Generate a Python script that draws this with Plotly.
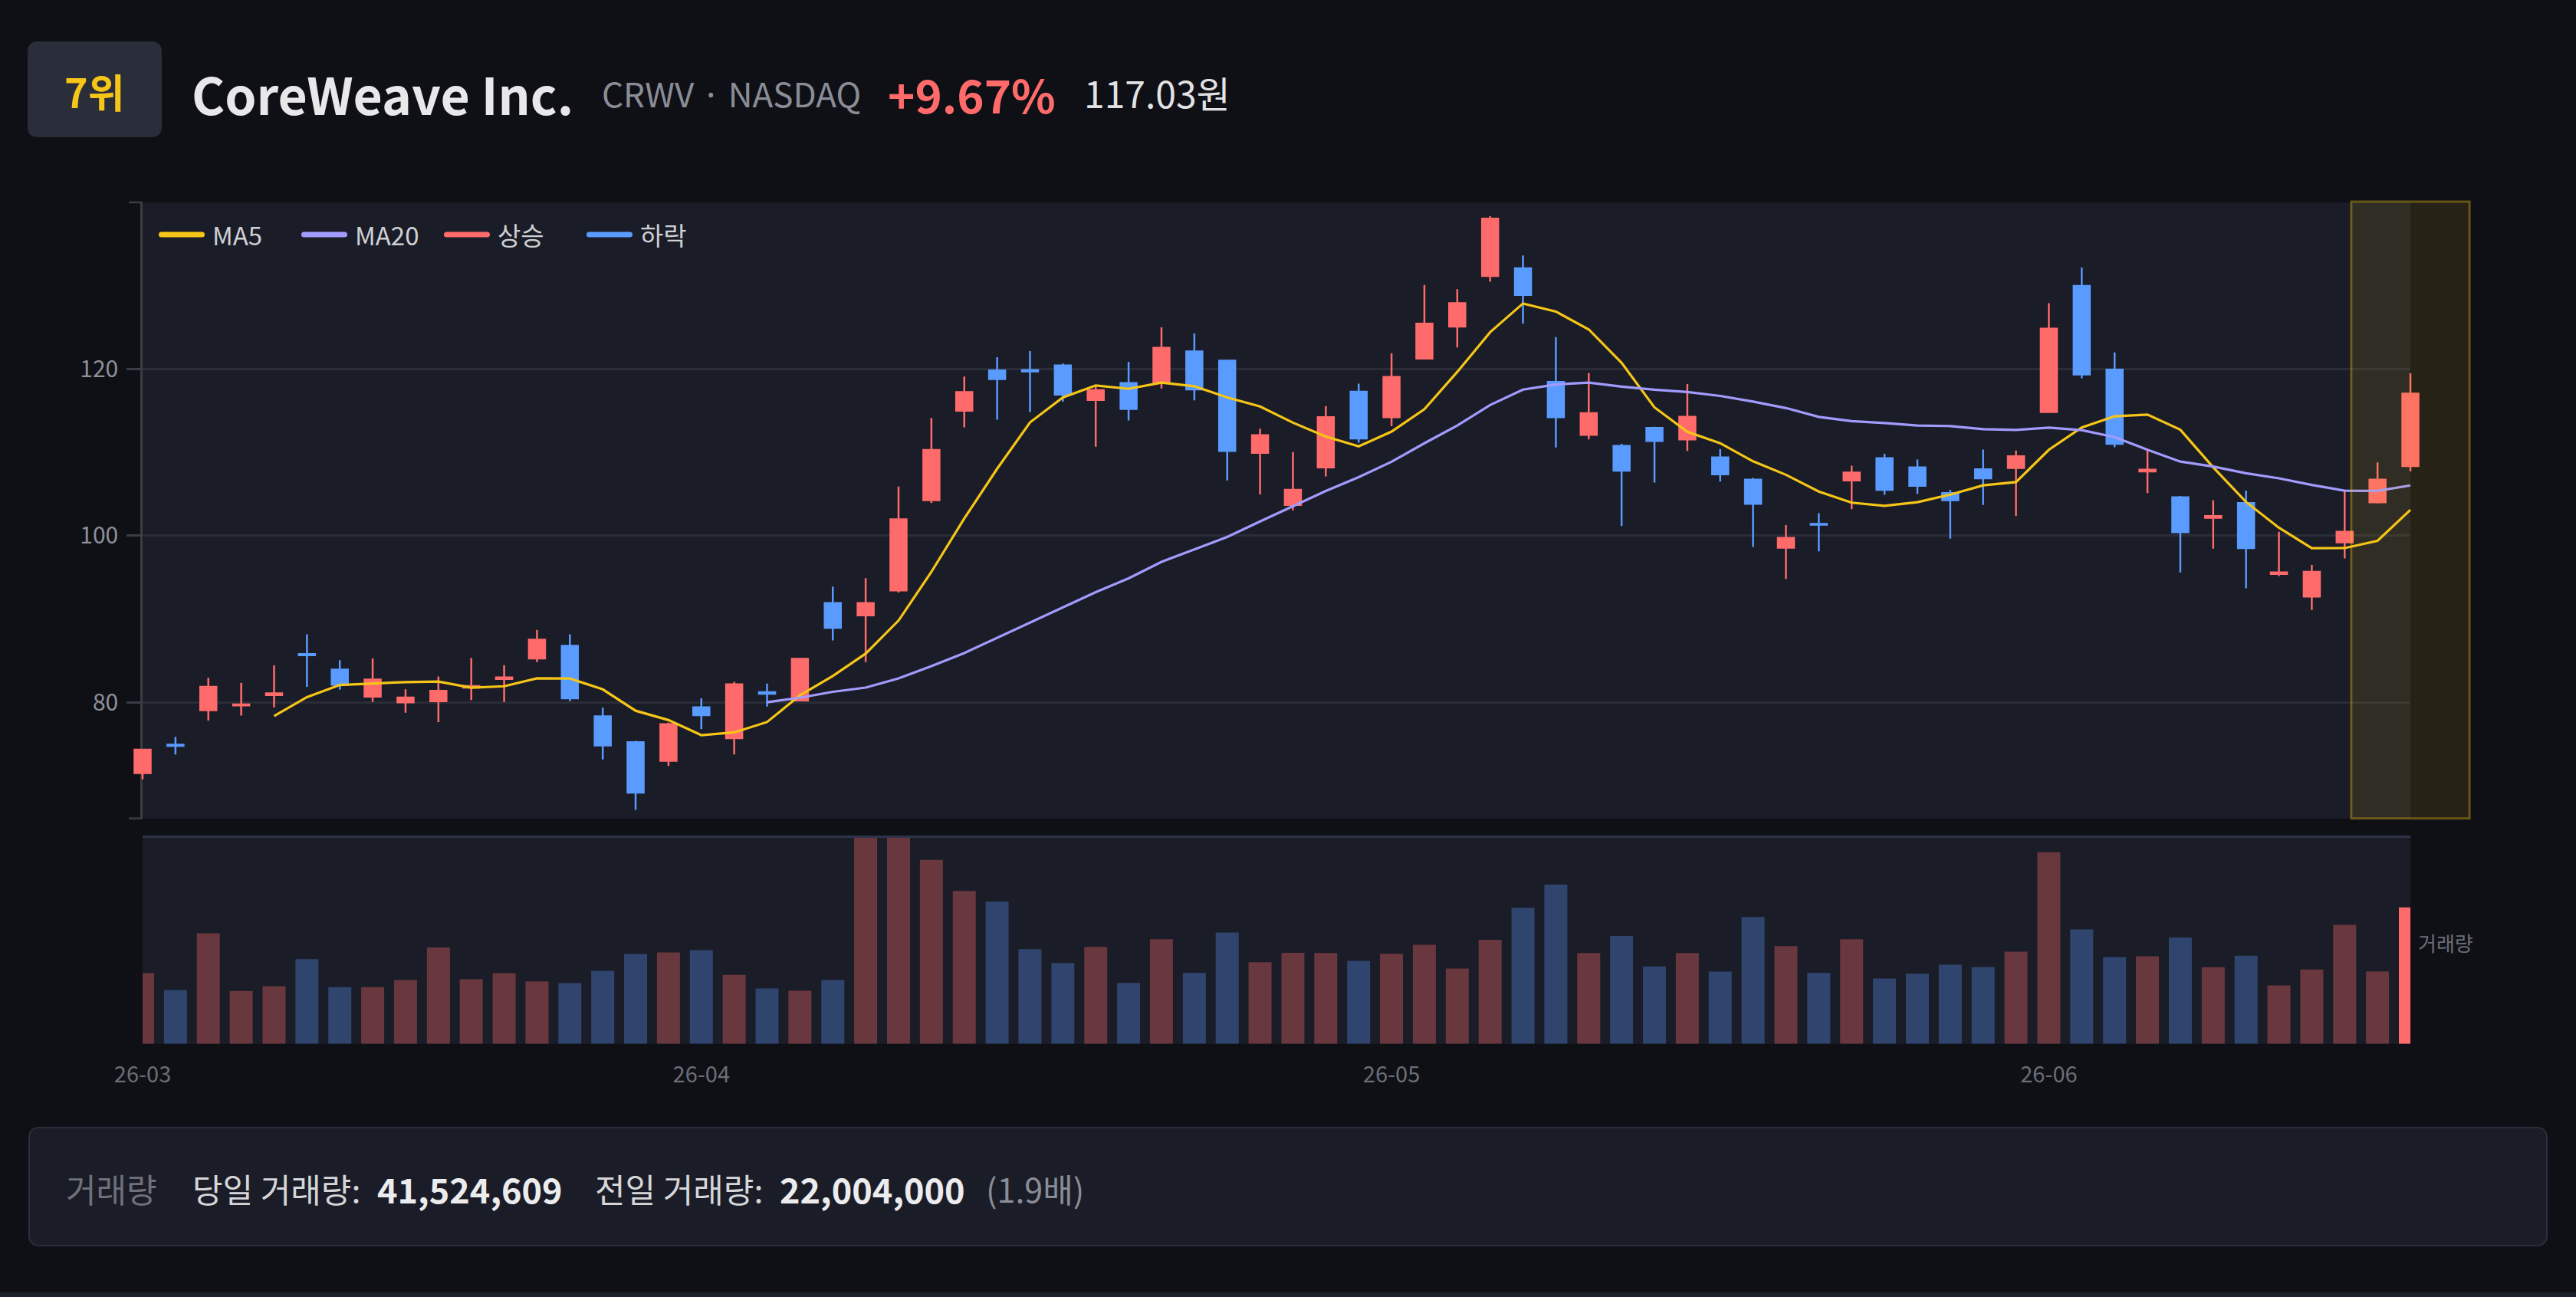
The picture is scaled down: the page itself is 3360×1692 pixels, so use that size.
import pandas as pd
import plotly.graph_objects as go

W, H = 3360, 1692
FONT = "Noto Sans CJK KR"

RED = "#ff6b6b"
BLUE = "#5a9bff"
YELLOW = "#f5c518"
LAVENDER = "#a29bfe"
PAGE_BG = "#0f1016"
PANEL_BG = "#1a1c27"

# 거래일 인덱스와 월 라벨
days = list(range(70))
month_pos = [0, 17, 38, 58]
month_text = ["26-03", "26-04", "26-05", "26-06"]

opens = [71.55, 74.94, 79.07, 79.66, 80.89, 85.81, 83.94, 80.70, 80.01, 80.16,
         81.78, 82.81, 85.27, 86.80, 78.34, 75.24, 73.02, 79.42, 75.73, 81.24,
         80.25, 91.91, 90.44, 93.44, 104.26, 114.98, 119.80, 119.85, 120.39, 116.26,
         118.28, 118.28, 122.07, 120.98, 109.92, 103.67, 108.19, 117.25, 114.20, 121.23,
         125.07, 131.12, 132.05, 118.43, 112.08, 110.75, 112.92, 111.54, 109.37, 106.72,
         98.55, 101.41, 106.62, 109.28, 108.19, 105.10, 107.95, 108.10, 114.83, 129.94,
         119.90, 107.70, 104.60, 102.14, 103.91, 95.40, 92.70, 99.19, 104.01, 108.34]
highs = [74.35, 75.88, 82.96, 82.37, 84.44, 88.17, 85.07, 85.27, 81.58, 83.11,
         85.32, 84.48, 88.71, 88.17, 79.37, 75.43, 77.60, 80.50, 82.47, 82.27,
         85.32, 93.88, 94.91, 105.88, 114.10, 119.07, 121.38, 122.12, 120.64, 118.03,
         120.84, 124.97, 124.23, 120.98, 112.82, 110.01, 115.52, 118.23, 121.87, 130.04,
         129.54, 138.30, 133.58, 123.79, 119.51, 111.00, 113.06, 118.18, 110.36, 106.92,
         101.26, 102.68, 108.39, 109.82, 109.13, 105.49, 110.31, 110.21, 127.87, 132.15,
         121.97, 110.26, 104.75, 104.26, 105.39, 100.47, 96.49, 105.39, 108.78, 119.46]
lows = [70.80, 73.76, 77.84, 78.43, 79.42, 81.88, 81.53, 80.06, 78.78, 77.65,
        80.30, 80.06, 84.83, 80.16, 73.17, 67.12, 72.38, 76.81, 73.76, 79.52,
        80.16, 87.44, 84.83, 93.19, 103.91, 112.97, 113.90, 114.83, 116.06, 110.65,
        113.80, 117.64, 116.21, 106.62, 104.95, 103.03, 107.11, 111.15, 113.11, 121.13,
        122.56, 130.43, 125.41, 110.56, 111.54, 101.16, 106.37, 110.16, 106.47, 98.65,
        94.81, 98.11, 103.18, 104.90, 105.00, 99.63, 103.67, 102.34, 114.74, 118.87,
        110.60, 105.10, 95.60, 98.45, 93.68, 95.16, 91.08, 97.27, 103.87, 107.70]
closes = [74.35, 74.80, 81.88, 79.76, 81.09, 85.67, 82.12, 82.76, 80.60, 81.39,
          81.98, 83.01, 87.53, 80.50, 74.84, 69.19, 77.40, 78.48, 82.17, 81.04,
          85.22, 88.96, 91.91, 101.95, 110.26, 117.20, 118.77, 119.70, 116.90, 117.44,
          115.18, 122.51, 117.54, 110.16, 112.03, 105.49, 114.20, 111.64, 119.02, 125.41,
          127.87, 138.00, 128.85, 114.20, 114.69, 107.80, 111.34, 114.24, 107.36, 103.82,
          99.73, 101.31, 107.55, 105.49, 105.98, 104.26, 106.87, 109.52, 124.82, 119.31,
          111.00, 107.90, 100.42, 102.34, 98.50, 95.60, 95.65, 100.47, 106.71, 117.03]
volumes = [21500000, 16380000, 33610000, 16070000, 17540000, 25770000, 17230000, 17230000, 19410000, 29340000,
           19640000, 21500000, 19020000, 18480000, 22200000, 27330000, 27790000, 28490000, 20960000, 16850000,
           16150000, 19410000, 66800000, 64100000, 55970000, 46500000, 43240000, 28800000, 24610000, 29500000,
           18550000, 31830000, 21580000, 33850000, 24840000, 27710000, 27640000, 25230000, 27400000, 30120000,
           22900000, 31670000, 41380000, 48440000, 27640000, 32840000, 23520000, 27640000, 21970000, 38580000,
           29730000, 21580000, 31830000, 19870000, 21350000, 24070000, 23370000, 28020000, 58300000, 34780000,
           26390000, 26630000, 32370000, 23290000, 26780000, 17780000, 22590000, 36180000, 22004000, 41524609]

price_ticks = [80, 100, 120]
price_range = [66.1, 139.95]
volume_max = 62900000

ma5 = pd.Series(closes).rolling(5).mean()
ma20 = pd.Series(closes).rolling(20).mean()


def px(x):
    return x / W


def py(y):
    return 1 - y / H


def rounded(x0, y0, x1, y1, r):
    pts = [("M", x0 + r, y0), ("L", x1 - r, y0), ("Q", x1, y0, x1, y0 + r),
           ("L", x1, y1 - r), ("Q", x1, y1, x1 - r, y1), ("L", x0 + r, y1),
           ("Q", x0, y1, x0, y1 - r), ("L", x0, y0 + r), ("Q", x0, y0, x0 + r, y0)]
    out = ""
    for p in pts:
        cmd, nums = p[0], p[1:]
        coords = []
        for k in range(0, len(nums), 2):
            coords.append(f"{px(nums[k]):.5f},{py(nums[k + 1]):.5f}")
        out += cmd + " ".join(coords) + " "
    return out + "Z"


# 플롯 영역 (픽셀)
X0, X1 = 186, 3144
PRICE_TOP, PRICE_BOT = 264, 1067.7
VOL_TOP, VOL_BOT = 1092, 1361.7
STEP = (X1 - X0) / (days[-1] - days[0])   # 캔들 간격(px)
PAD = 0.6                                 # 양 끝 캔들이 잘리지 않도록 여유

fig = go.Figure()

# 가격 패널 프레임(축/격자)용 빈 트레이스
fig.add_trace(go.Scatter(x=[], y=[], xaxis="x", yaxis="y", showlegend=False, hoverinfo="skip"))

# 캔들과 이동평균은 양 끝으로 조금 넓힌 보조 축(x3/y3)에 그린다
fig.add_trace(go.Candlestick(
    x=days, open=opens, high=highs, low=lows, close=closes,
    increasing=dict(line=dict(color=RED, width=2.5), fillcolor=RED),
    decreasing=dict(line=dict(color=BLUE, width=2.5), fillcolor=BLUE),
    xaxis="x3", yaxis="y3", showlegend=False, hoverinfo="skip",
))
fig.add_trace(go.Scatter(x=days, y=ma5, mode="lines", line=dict(color=YELLOW, width=3.2),
                         xaxis="x3", yaxis="y3", showlegend=False, hoverinfo="skip"))
fig.add_trace(go.Scatter(x=days, y=ma20, mode="lines", line=dict(color=LAVENDER, width=3.2),
                         xaxis="x3", yaxis="y3", showlegend=False, hoverinfo="skip"))

bar_colors = []
for i in days:
    if i == days[-1]:
        bar_colors.append(RED)
    elif closes[i] >= opens[i]:
        bar_colors.append("rgba(255,107,107,0.35)")
    else:
        bar_colors.append("rgba(90,155,255,0.33)")

fig.add_trace(go.Bar(x=days, y=volumes, marker=dict(color=bar_colors, line=dict(width=0)),
                     width=0.7, xaxis="x2", yaxis="y2", showlegend=False, hoverinfo="skip"))

fig.update_layout(
    width=W, height=H,
    autosize=False,
    margin=dict(l=0, r=0, t=0, b=0, pad=0),
    paper_bgcolor=PAGE_BG,
    plot_bgcolor="rgba(0,0,0,0)",
    font=dict(family=FONT),
    showlegend=False,
    # 가격 패널 프레임: y축, 눈금, 격자
    xaxis=dict(domain=[px(X0), px(X1)], range=[days[0], days[-1]], anchor="y",
               showticklabels=False, showgrid=False, zeroline=False, automargin=False,
               fixedrange=True),
    yaxis=dict(domain=[py(PRICE_BOT), py(PRICE_TOP)], range=price_range, anchor="x",
               tickvals=price_ticks, showgrid=True, gridcolor="#2a2c37", gridwidth=2.5,
               showline=True, linecolor="#3b3c44", linewidth=2.5,
               ticks="outside", ticklen=18, tickwidth=2.5, tickcolor="#3b3c44",
               tickfont=dict(size=30, color="#8e9099"), ticklabelstandoff=5,
               zeroline=False, automargin=False),
    # 거래량 패널
    xaxis2=dict(domain=[px(X0), px(X1)], range=[days[0], days[-1]], anchor="y2",
                tickvals=month_pos, ticktext=month_text,
                tickfont=dict(size=29, color="#6b6e76"),
                ticks="outside", ticklen=14, tickcolor="rgba(0,0,0,0)",
                showgrid=False, showline=False, zeroline=False, automargin=False),
    yaxis2=dict(domain=[py(VOL_BOT), py(VOL_TOP)], range=[0, volume_max], anchor="x2",
                showticklabels=False, showgrid=False, zeroline=False, automargin=False),
    # 캔들용 보조 축 (같은 스케일, 양 끝만 확장)
    xaxis3=dict(domain=[px(X0 - PAD * STEP), px(X1 + PAD * STEP)],
                range=[days[0] - PAD, days[-1] + PAD], anchor="y3", visible=False,
                rangeslider=dict(visible=False), automargin=False),
    yaxis3=dict(domain=[py(PRICE_BOT), py(PRICE_TOP)], range=price_range, anchor="x3",
                visible=False, automargin=False),
)

shapes = []
# 패널 배경
shapes.append(dict(type="rect", xref="paper", yref="paper", x0=px(X0), x1=px(X1),
                   y0=py(PRICE_BOT), y1=py(PRICE_TOP), fillcolor=PANEL_BG, line=dict(width=0), layer="below"))
shapes.append(dict(type="rect", xref="paper", yref="paper", x0=px(X0), x1=px(X1),
                   y0=py(VOL_BOT), y1=py(VOL_TOP), fillcolor=PANEL_BG, line=dict(width=0), layer="below"))
# 헤더 순위 배지
shapes.append(dict(type="path", xref="paper", yref="paper", path=rounded(36, 54, 211, 179, 14),
                   fillcolor="#2a2d3a", line=dict(width=0), layer="below"))
# y축 바깥 눈금
for yy in (PRICE_TOP, PRICE_BOT):
    shapes.append(dict(type="line", xref="paper", yref="paper", x0=px(X0 - 18), x1=px(X0),
                       y0=py(yy), y1=py(yy), line=dict(color="#3b3c44", width=2.5)))
# 거래량 패널 상단 경계선
shapes.append(dict(type="line", xref="paper", yref="paper", x0=px(X0), x1=px(X1),
                   y0=py(1091.5), y1=py(1091.5), line=dict(color="#2f3349", width=3)))
# 최근 거래일 하이라이트
span = (px(X1) - px(X0)) / (days[-1] - days[0])
hl_center = px(X0) + (days[-1] - days[0]) * span
shapes.append(dict(type="rect", xref="paper", yref="paper",
                   x0=hl_center - 1.8 * span, x1=hl_center + 1.8 * span,
                   y0=py(PRICE_BOT), y1=py(PRICE_TOP - 1),
                   fillcolor="rgba(245,197,24,0.10)", line=dict(color="rgba(245,197,24,0.35)", width=3),
                   layer="above"))
# 하단 요약 박스
shapes.append(dict(type="path", xref="paper", yref="paper", path=rounded(38, 1471, 3322, 1625, 14),
                   fillcolor=PANEL_BG, line=dict(color="#2a2e3c", width=2), layer="below"))
shapes.append(dict(type="rect", xref="paper", yref="paper", x0=0, x1=1, y0=0, y1=py(1686),
                   fillcolor="#1b1e2b", line=dict(width=0), layer="below"))

# 범례
legend_items = [("MA5", YELLOW), ("MA20", LAVENDER), ("상승", RED), ("하락", BLUE)]
for k, (name, color) in enumerate(legend_items):
    lx = 207 + 186 * k
    shapes.append(dict(type="path", xref="paper", yref="paper", path=rounded(lx, 302.5, lx + 60, 309.5, 3.5),
                       fillcolor=color, line=dict(width=0), layer="above"))
    fig.add_annotation(xref="paper", yref="paper", x=px(lx + 68), y=py(306), text=name,
                       showarrow=False, xanchor="left", yanchor="middle",
                       font=dict(size=33, color="#cfd0d4", family=FONT))

fig.update_layout(shapes=shapes)


def label(x, y, text, size, color, bold=False, anchor="left"):
    fig.add_annotation(xref="paper", yref="paper", x=px(x), y=py(y),
                       text=f"<b>{text}</b>" if bold else text, showarrow=False,
                       xanchor=anchor, yanchor="middle",
                       font=dict(size=size, color=color, family=FONT))


pct = (closes[-1] / closes[-2] - 1) * 100
label(123.5, 119, "7위", 52, "#f5c518", bold=True, anchor="center")
label(248, 121, "CoreWeave Inc.", 66, "#e8e8ea", bold=True)
label(783, 121, "CRWV · NASDAQ", 44, "#8a8d96")
label(1156, 121, f"{pct:+.2f}%", 60, RED, bold=True)
label(1412, 120, f"{closes[-1]:.2f}원", 48, "#e2e2e4")

label(3152, 1229, "거래량", 26, "#6b6e76")

ratio = volumes[-1] / volumes[-2]
label(84, 1550, "거래량", 43, "#6e717a")
label(249, 1550, "당일 거래량:", 43, "#d6d6d8")
label(490, 1550, f"{volumes[-1]:,}", 45, "#ececee", bold=True)
label(774, 1550, "전일 거래량:", 43, "#d6d6d8")
label(1015, 1550, f"{volumes[-2]:,}", 45, "#ececee", bold=True)
label(1284, 1550, f"({ratio:.1f}배)", 43, "#8a8d96")

fig.write_html(
    "out.html",
    config={"displayModeBar": False},
    post_script="document.body.style.margin='0';document.body.style.overflow='hidden';"
                "document.body.style.background='#0f1016';",
)
